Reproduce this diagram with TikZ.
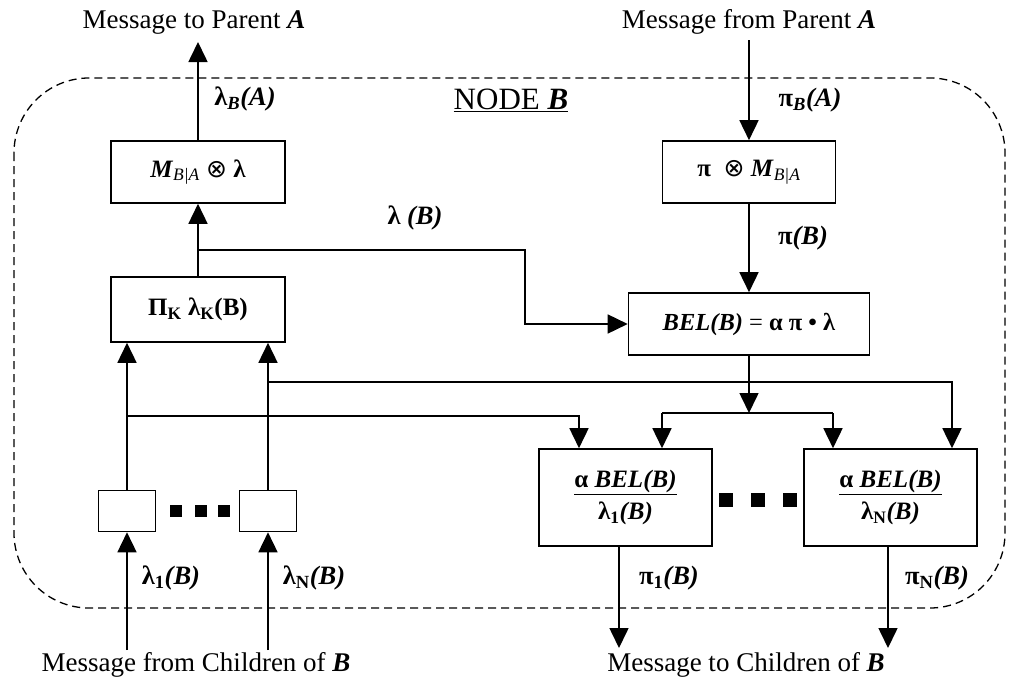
\documentclass[tikz,border=0pt]{standalone}
\usepackage{fontspec}
\setmainfont{Liberation Serif}
\newfontfamily\symfont{DejaVu Sans}
\usetikzlibrary{arrows.meta}
\newcommand{\otim}{{\symfont ⊗}}
\tikzset{
  box/.style={draw, line width=1.6pt, minimum width=174pt, minimum height=62pt, inner sep=0pt, font=\fontsize{25}{32}\selectfont},
  conn/.style={line width=1.6pt, -{Triangle[length=20pt,width=19pt]}},
  plain/.style={line width=1.6pt},
  lab/.style={font=\fontsize{26.5}{30}\selectfont\bfseries, inner sep=0pt},
  msg/.style={font=\fontsize{27}{30}\selectfont, inner sep=0pt},
  sqdot/.style={fill, minimum size=13pt, inner sep=0pt},
  smallbox/.style={draw, line width=1.6pt, minimum width=57pt, minimum height=41pt, inner sep=0pt},
  border/.style={line width=1.3pt, dash pattern=on 8pt off 5pt, rounded corners=75pt}
}
\begin{document}
\begin{tikzpicture}[x=1pt,y=-1pt]
\useasboundingbox (0,0) rectangle (1018,683);
% outer boundary
\draw[border] (14,78) rectangle (1005,608);
\node[msg, font=\fontsize{31}{34}\selectfont] (nodeb) at (511,100) {\underline{NODE \textbf{\textit{B}}}};

% boxes
\node[box] (mba) at (198,172) {\textbf{\textit{M}}\textsubscript{\textit{B|A}} \otim\ \textbf{λ}};
\node[box, minimum height=65pt] (pik) at (198,309.5) {\textbf{Π\textsubscript{K} λ\textsubscript{K}(B)}};
\node[box, minimum width=173pt] (pim) at (749,172) {\textbf{π} \ \otim\ \textbf{\textit{M}}\textsubscript{\textit{B|A}}};
\node[box, minimum width=241pt, font=\fontsize{24.5}{32}\selectfont] (bel) at (749,324) {\textbf{\textit{BEL(B)}} = \textbf{α π • λ}};
\node[box, minimum width=173pt, minimum height=97pt, align=center] (c1) at (625.5,497.5) {\underline{\textbf{α \textit{BEL(B)}}}\\ \textbf{λ\textsubscript{1}\textit{(B)}}};
\node[box, minimum width=173pt, minimum height=97pt, align=center] (cN) at (890.5,497.5) {\underline{\textbf{α \textit{BEL(B)}}}\\ \textbf{λ\textsubscript{N}\textit{(B)}}};
\node[smallbox] (s1) at (127,511) {};
\node[smallbox] (sN) at (268,511) {};

% dots
\node[sqdot, minimum size=12pt] (dl1) at (176,511) {};
\node[sqdot, minimum size=12pt] (dl2) at (201,511) {};
\node[sqdot, minimum size=12pt] (dl3) at (224,511) {};
\node[sqdot, minimum size=14pt] (dr1) at (726,500) {};
\node[sqdot, minimum size=14pt] (dr2) at (758,500) {};
\node[sqdot, minimum size=14pt] (dr3) at (790,500) {};

% messages
\node[msg] (mtp) at (194,22) {Message to Parent \textbf{\textit{A}}};
\node[msg] (mfp) at (749,22) {Message from Parent \textbf{\textit{A}}};
\node[msg] (mfc) at (196,665) {Message from Children of \textbf{\textit{B}}};
\node[msg] (mtc) at (746,665) {Message to Children of \textbf{\textit{B}}};

% labels
\node[lab] (lba) at (245,99) {λ\textsubscript{\textit{B}}\textit{(A)}};
\node[lab] (pba) at (810,100) {π\textsubscript{\textit{B}}\textit{(A)}};
\node[lab] (pb) at (803,238) {π\textit{(B)}};
\node[lab] (lb) at (415,218) {λ \textit{(B)}};
\node[lab] (l1) at (171,578) {λ\textsubscript{1}\textit{(B)}};
\node[lab] (lN) at (314,578) {λ\textsubscript{N}\textit{(B)}};
\node[lab] (p1) at (669,578) {π\textsubscript{1}\textit{(B)}};
\node[lab] (pN) at (937,578) {π\textsubscript{N}\textit{(B)}};

% coordinates
\coordinate (mtpEnd) at (198,42);
\coordinate (mfpStart) at (749,40);
\coordinate (lamJ) at (198,250);
\coordinate (lamK) at (525,250);
\coordinate (bsplit) at (749,413);
\coordinate (bl) at (662,413);
\coordinate (br) at (833,413);
\coordinate (j1) at (127,416);
\coordinate (j2) at (268,382);
\coordinate (b1) at (127,650);
\coordinate (bN) at (268,650);
\coordinate (o1) at (619,648);
\coordinate (oN) at (888,648);

% connectors
\draw[conn] (mba.north) -- (mtpEnd);
\draw[conn] (pik.north) -- (mba.south);
\draw[conn] (lamJ) -- (lamK) |- (bel.west);
\draw[conn] (mfpStart) -- (pim.north);
\draw[conn] (pim.south) -- (bel.north);
\draw[conn] (bel.south) -- (bsplit);
\draw[plain] (bl) -- (br);
\draw[conn] (bl) -- (bl |- c1.north);
\draw[conn] (br) -- (br |- cN.north);
\draw[conn] (s1.north) -- (s1.north |- pik.south);
\draw[conn] (sN.north) -- (sN.north |- pik.south);
\draw[conn] (j1) -| ([xshift=-46.5pt]c1.north);
\draw[conn] (j2) -| ([xshift=61.5pt]cN.north);
\draw[conn] (b1) -- (s1.south);
\draw[conn] (bN) -- (sN.south);
\draw[conn] (o1 |- c1.south) -- (o1);
\draw[conn] (oN |- cN.south) -- (oN);
\end{tikzpicture}
\end{document}
